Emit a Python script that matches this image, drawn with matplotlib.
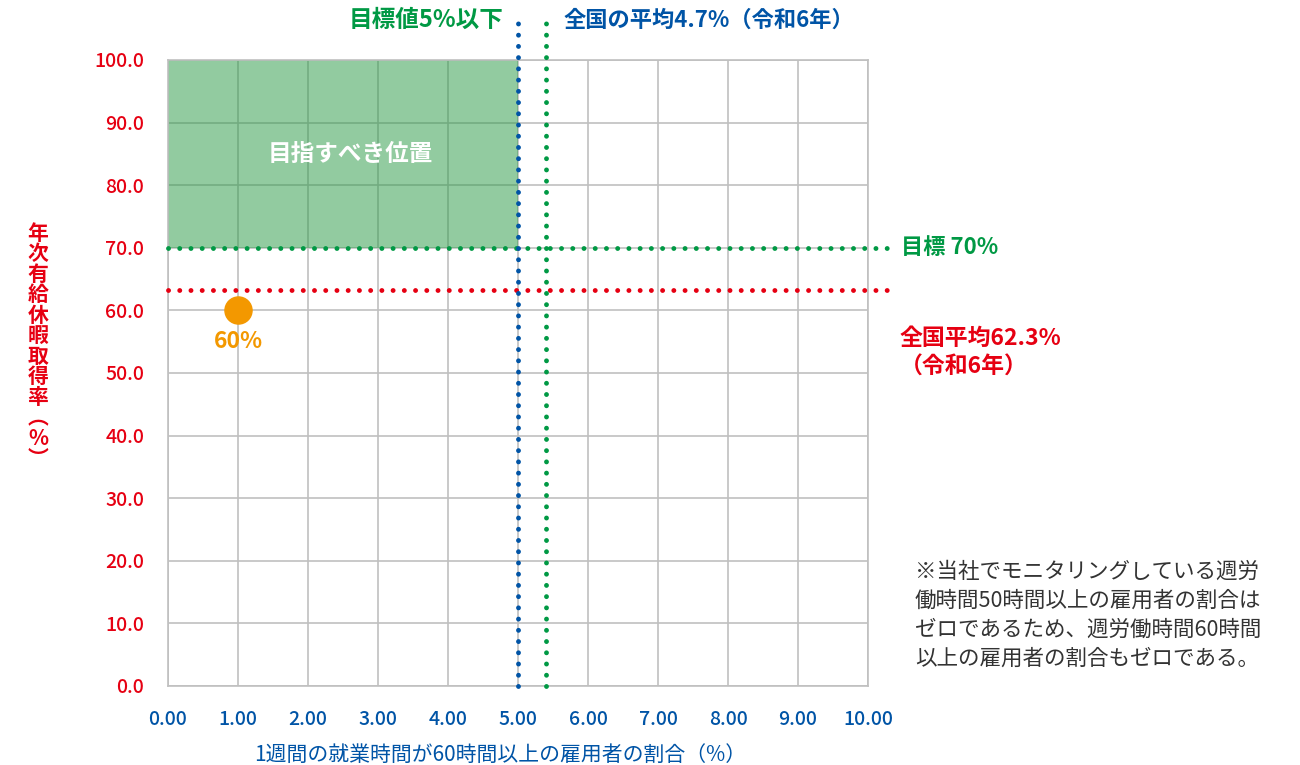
import matplotlib.pyplot as plt

plt.rcParams['font.family'] = ['Noto Sans CJK JP', 'DejaVu Sans']

# colours
RED = '#e60012'
BLUE = '#0054a6'
GREEN = '#009944'
ORANGE = '#f39800'
GRID = '#c0c0c0'

# data
x_ticks = [0, 1, 2, 3, 4, 5, 6, 7, 8, 9, 10]
y_ticks = [0, 10, 20, 30, 40, 50, 60, 70, 80, 90, 100]
target_x = 5.0        # 目標値5%以下
national_x = 5.4      # 全国の平均 (drawn position)
target_y = 70.0       # 目標 70%
national_y = 63.3     # 全国平均 (drawn position)
company_x = [1.0]
company_y = [60.0]
company_label = '60%'

fig = plt.figure(figsize=(13, 7.65), dpi=100)
ax = fig.add_axes([0.1292, 0.1033, 0.5385, 0.8183])

ax.set_xlim(0, 10)
ax.set_ylim(0, 100)
ax.set_xticks(x_ticks)
ax.set_yticks(y_ticks)
ax.set_xticklabels([f'{v:.2f}' for v in x_ticks], color=BLUE, fontsize=14, fontweight='medium')
ax.set_yticklabels([f'{v:.1f}' for v in y_ticks], color=RED, fontsize=14, fontweight='medium')
ax.tick_params(length=0, pad=17)
ax.grid(True, color=GRID, linewidth=1.2)
ax.set_axisbelow(True)
for s in ax.spines.values():
    s.set_color(GRID)
    s.set_linewidth(1.2)

# target area
ax.fill_between([0, target_x], target_y, 100, color='#279943', alpha=0.5, linewidth=0, zorder=1.5)
ax.text(2.6, 85, '目指すべき位置', color='white', fontsize=17, fontweight='bold',
        ha='center', va='center', zorder=3)

# dotted reference lines
dot = dict(linewidth=3.5, linestyle=(0, (0.01, 2.3)), dash_capstyle='round', clip_on=False, zorder=4)
ax.plot([0, 10.31], [target_y, target_y], color=GREEN, **dot)
ax.plot([0, 10.31], [national_y, national_y], color=RED, **dot)
ax.plot([target_x, target_x], [0, 107.2], color=BLUE, **dot)
ax.plot([national_x, national_x], [0, 107.2], color=GREEN, **dot)

# company point
ax.plot(company_x, company_y, 'o', color=ORANGE, markersize=19.5, zorder=5)
ax.text(company_x[0], company_y[0] - 5, company_label, color=ORANGE, fontsize=16.5,
        fontweight='bold', ha='center', va='center')

# labels of lines
ax.text(target_x - 0.2, 106.4, '目標値5%以下', color=GREEN, fontsize=17, fontweight='bold',
        ha='right', va='center')
ax.text(national_x + 0.25, 106.4, '全国の平均4.7%（令和6年）', color=BLUE, fontsize=16,
        fontweight='bold', ha='left', va='center')
ax.text(10.47, target_y, '目標 70%', color=GREEN, fontsize=16, fontweight='bold',
        ha='left', va='center')
ax.text(10.45, 53.2, '全国平均62.3%\n（令和6年）', color=RED, fontsize=16.5, fontweight='bold',
        ha='left', va='center', linespacing=1.3)

# axis titles
ax.set_xlabel('1週間の就業時間が60時間以上の雇用者の割合（%）', color=BLUE, fontsize=15)
ax.xaxis.set_label_coords(0.474, -0.092)
ylab = '\n'.join('年次有給休暇取得率') + '\n︵\n%\n︶'
fig.text(38 / 1300, 1 - 346 / 765, ylab, color=RED, fontsize=15, fontweight='bold',
         ha='center', va='center', linespacing=0.97)

# note
note = ('※当社でモニタリングしている週労\n'
        '働時間50時間以上の雇用者の割合は\n'
        'ゼロであるため、週労働時間60時間\n'
        '以上の雇用者の割合もゼロである。')
fig.text(915 / 1300, 1 - 615 / 765, note, color='#333333', fontsize=15.5,
         ha='left', va='center', linespacing=1.42)

fig.savefig('out.png', dpi=100)
